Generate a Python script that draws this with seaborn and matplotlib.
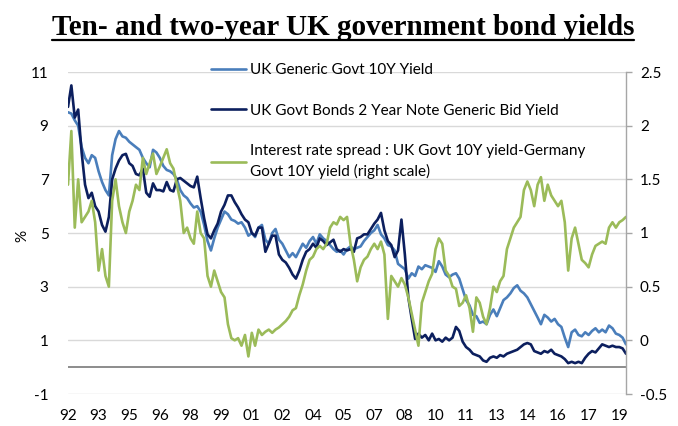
import numpy as np
import pandas as pd
import matplotlib
matplotlib.use("Agg")
import matplotlib.pyplot as plt
import matplotlib.dates as mdates
from matplotlib.lines import Line2D
import seaborn as sns

# ---------------- data (bi-monthly readings, Jan 1992 - May 2019) ----------------
dates = pd.date_range("1992-01-01", periods=165, freq="2MS")

uk10y = [
    9.5, 9.45, 9.2, 9.0, 8.2, 7.8,            # 1992
    7.6, 7.9, 7.8, 7.3, 6.9, 6.6,             # 1993
    6.4, 7.9, 8.5, 8.8, 8.6, 8.55,            # 1994
    8.4, 8.3, 8.2, 8.1, 7.8, 7.6,             # 1995
    7.45, 8.1, 8.0, 7.8, 7.5, 7.35,           # 1996
    7.3, 7.2, 7.0, 6.6, 6.4, 6.3,             # 1997
    6.1, 5.95, 6.0, 5.8, 5.3, 4.7,            # 1998
    4.35, 4.8, 5.2, 5.5, 5.8, 5.7,            # 1999
    5.5, 5.45, 5.35, 5.4, 5.2, 4.9,           # 2000
    5.0, 4.85, 5.2, 5.3, 4.75, 4.6,           # 2001
    5.0, 5.15, 4.75, 4.6, 4.35, 4.1,          # 2002
    4.25, 4.1, 4.35, 4.6, 4.45, 4.7,          # 2003
    4.85, 4.6, 4.95, 4.8, 4.7, 4.55,          # 2004
    4.4, 4.3, 4.35, 4.2, 4.4, 4.5,            # 2005
    4.4, 4.45, 4.5, 4.7, 4.85, 5.0,           # 2006
    5.1, 5.3, 4.95, 4.8, 4.55, 4.5,           # 2007
    4.35, 3.85, 3.75, 3.65, 3.3, 3.5,         # 2008
    3.4, 3.75, 3.65, 3.8, 3.75, 3.7,          # 2009
    3.55, 3.95, 3.75, 3.45, 3.35, 3.45,       # 2010
    3.5, 3.3, 2.9, 2.5, 2.3, 1.95,            # 2011
    1.9, 1.65, 1.7, 1.6, 1.95, 2.15,          # 2012
    1.9, 2.2, 2.5, 2.6, 2.75, 2.95,           # 2013
    3.05, 2.85, 2.75, 2.6, 2.35, 2.1,         # 2014
    1.85, 1.6, 1.95, 1.85, 1.7, 1.8,          # 2015
    1.6, 1.5, 1.1, 0.75, 1.3, 1.4,            # 2016
    1.2, 1.15, 1.3, 1.2, 1.35, 1.45,          # 2017
    1.3, 1.4, 1.3, 1.55, 1.45, 1.25,          # 2018
    1.2, 1.1, 0.85,                           # 2019
]

uk2y = [
    9.7, 10.5, 9.3, 9.6, 8.0, 6.8,
    6.3, 6.5, 6.0, 5.8, 5.3, 5.05,
    5.6, 7.0, 7.4, 7.7, 7.9, 7.95,
    7.6, 7.5, 7.2, 7.15, 7.4, 6.5,
    6.35, 6.85, 6.6, 6.6, 6.55, 6.9,
    6.6, 6.55, 7.0, 7.05, 6.95, 6.85,
    6.75, 6.7, 7.1, 6.3, 5.55, 4.95,
    4.8, 5.1, 5.35, 5.8, 6.05, 6.4,
    6.4, 6.15, 5.95, 5.7, 5.5, 5.4,
    5.0, 4.9, 5.2, 5.2, 4.3, 4.6,
    4.9, 4.9, 4.2, 4.0, 3.9, 3.7,
    3.45, 3.3, 3.6, 4.0, 4.3, 4.4,
    4.6, 4.45, 4.8, 4.7, 4.55, 4.65,
    4.75, 4.4, 4.3, 4.4, 4.35, 4.4,
    4.3, 4.8, 4.85, 4.95, 4.95, 5.15,
    5.35, 5.5, 5.75, 5.1, 4.7, 4.55,
    4.1, 4.35, 5.5, 4.2, 2.6, 1.8,
    1.05, 1.25, 1.1, 1.2, 1.0, 1.25,
    1.0, 1.05, 0.95, 1.1, 1.0, 1.1,
    1.5, 1.35, 0.95, 0.75, 0.65, 0.5,
    0.45, 0.4, 0.25, 0.2, 0.35, 0.4,
    0.35, 0.45, 0.4, 0.5, 0.55, 0.6,
    0.65, 0.75, 0.85, 0.9, 0.85, 0.6,
    0.55, 0.5, 0.6, 0.55, 0.65, 0.5,
    0.45, 0.4, 0.3, 0.15, 0.2, 0.15,
    0.2, 0.15, 0.35, 0.5, 0.6, 0.55,
    0.7, 0.85, 0.8, 0.75, 0.8, 0.75,
    0.75, 0.7, 0.5,
]

spread = [
    1.45, 1.95, 1.05, 1.5, 1.1, 1.15,
    1.2, 1.3, 1.1, 0.65, 0.85, 0.6,
    0.5, 1.3, 1.5, 1.25, 1.1, 1.0,
    1.2, 1.3, 1.45, 1.4, 1.7, 1.55,
    1.65, 1.74, 1.55, 1.62, 1.7, 1.78,
    1.65, 1.6, 1.45, 1.3, 1.0, 1.05,
    0.95, 0.9, 1.2, 1.0, 0.95, 0.6,
    0.5, 0.65, 0.55, 0.45, 0.4, 0.15,
    0.02, 0.0, 0.02, -0.05, 0.05, -0.15,
    0.07, -0.05, 0.1, 0.05, 0.08, 0.1,
    0.07, 0.1, 0.12, 0.15, 0.18, 0.22,
    0.28, 0.3, 0.42, 0.52, 0.65, 0.75,
    0.78, 0.85, 0.88, 0.85, 0.9, 1.05,
    1.1, 1.08, 1.15, 1.12, 1.15, 0.9,
    0.75, 0.55, 0.68, 0.75, 0.78, 0.85,
    0.9, 0.85, 0.92, 0.8, 0.2, 0.6,
    0.55, 0.5, 0.58, 0.52, 0.4, 0.25,
    0.1, -0.05, 0.35, 0.45, 0.55, 0.62,
    0.85, 0.95, 0.9, 0.65, 0.6, 0.5,
    0.48, 0.32, 0.35, 0.42, 0.3, 0.08,
    0.4, 0.35, 0.22, 0.15, 0.3, 0.5,
    0.45, 0.55, 0.6, 0.85, 0.95, 1.05,
    1.1, 1.15, 1.4, 1.48, 1.4, 1.25,
    1.45, 1.52, 1.3, 1.45, 1.35, 1.3,
    1.25, 1.3, 1.1, 0.65, 0.95, 1.05,
    0.9, 0.75, 0.72, 0.68, 0.8, 0.88,
    0.9, 0.92, 0.9, 1.05, 1.1, 1.05,
    1.1, 1.12, 1.15,
]

labels = [
    "UK Generic Govt 10Y Yield",
    "UK Govt Bonds 2 Year Note Generic Bid Yield",
    "Interest rate spread : UK Govt 10Y yield-Germany\nGovt 10Y yield (right scale)",
]
title = "Ten- and two-year UK government bond yields"
left_ticks = [-1, 1, 3, 5, 7, 9, 11]
right_ticks = [-0.5, 0, 0.5, 1, 1.5, 2, 2.5]

df = pd.DataFrame({"date": dates, "uk10y": uk10y, "uk2y": uk2y, "spread": spread})

# ---------------- style ----------------
sns.set_theme(style="white")
plt.rcParams["font.family"] = ["Lato", "DejaVu Sans"]

C10 = "#4a7ebb"
C2 = "#0c1f5e"
CS = "#9bbb59"
FS = 11

fig = plt.figure(figsize=(6.78, 4.26), dpi=100)
ax = fig.add_axes([68 / 678, 1 - 394 / 426, (626 - 68) / 678, (394 - 72) / 426])
ax2 = ax.twinx()

sns.lineplot(data=df, x="date", y="uk10y", ax=ax, color=C10, lw=1.9, label=labels[0], legend=False)
sns.lineplot(data=df, x="date", y="uk2y", ax=ax, color=C2, lw=1.9, label=labels[1], legend=False)
sns.lineplot(data=df, x="date", y="spread", ax=ax2, color=CS, lw=1.9, label=labels[2], legend=False)

ax.set_xlim(dates[0], dates[-1])
ax.set_ylim(-1, 11)
ax2.set_ylim(-0.5, 2.5)
ax.set_yticks(left_ticks)
ax.set_yticklabels([str(t) for t in left_ticks])
ax2.set_yticks(right_ticks)
ax2.set_yticklabels([f"{t:g}" for t in right_ticks])

xt = pd.date_range("1992-01-01", "2019-01-01", freq="18MS")
ax.set_xticks(xt)
ax.xaxis.set_major_formatter(mdates.DateFormatter("%y"))

ax.grid(axis="y", color="#d9d9d9", lw=1.0)
ax.axhline(0, color="#8c8c8c", lw=1.4, zorder=1.5)
ax.set_axisbelow(True)

for s in ["top", "left", "bottom", "right"]:
    ax.spines[s].set_visible(False)
for s in ["top", "left", "bottom"]:
    ax2.spines[s].set_visible(False)
ax2.spines["right"].set_visible(True)
ax2.spines["right"].set_color("#a6a6a6")
ax2.spines["right"].set_linewidth(1.0)

ax.tick_params(axis="y", length=0, pad=14, labelsize=FS, labelcolor="black")
ax.tick_params(axis="x", length=0, pad=11, labelsize=FS, labelcolor="black")
ax2.tick_params(axis="y", length=4, width=1, color="#a6a6a6", direction="out", pad=6,
                labelsize=FS, labelcolor="black", right=True)

ax.set_xlabel("")
ax.set_ylabel("")
ax2.set_ylabel("")
fig.text(22 / 678, 1 - 236 / 426, "%", rotation=90, ha="center", va="center",
         fontsize=FS, color="black")

h1, l1 = ax.get_legend_handles_labels()
h2, l2 = ax2.get_legend_handles_labels()
leg = fig.legend(h1 + h2, l1 + l2, loc="upper left", bbox_to_anchor=(211 / 678, 1 - 63 / 426),
                 frameon=False, fontsize=FS, handlelength=2.3, handletextpad=0.25,
                 labelspacing=1.75, borderpad=0, borderaxespad=0)
for t in leg.get_texts():
    t.set_color("black")
    t.set_linespacing(1.45)

ttl = fig.text(343 / 678, 1 - 35 / 426, title, ha="center", va="baseline",
               fontsize=21, fontweight="bold", family="Liberation Serif", color="black")

fig.canvas.draw()
bb = ttl.get_window_extent(fig.canvas.get_renderer())
uy = 1 - 39.5 / 426
fig.add_artist(Line2D([bb.x0 / 678, bb.x1 / 678], [uy, uy], transform=fig.transFigure,
                      color="black", lw=1.6))

fig.savefig("out.png", dpi=100)
